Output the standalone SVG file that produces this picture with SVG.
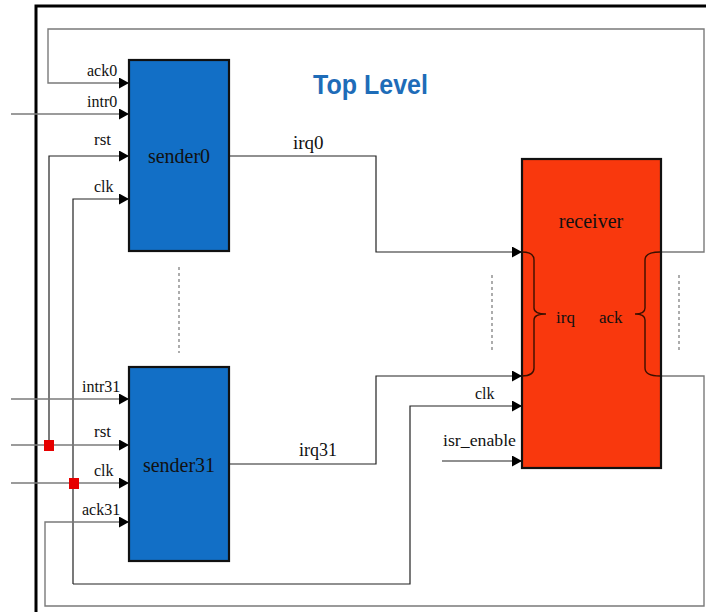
<svg xmlns="http://www.w3.org/2000/svg" width="706" height="612" viewBox="0 0 706 612">
  <defs>
    <marker id="arrow" markerWidth="10" markerHeight="11" refX="10" refY="5.5" orient="auto" markerUnits="userSpaceOnUse">
      <path d="M0,0 L10,5.5 L0,11 z" fill="#000"/>
    </marker>
    <style>
      .wire { fill: none; stroke: #222; stroke-width: 1.2; }
      .wire-grey { fill: none; stroke: #7a7a7a; stroke-width: 1.4; }
      .in { marker-end: url(#arrow); }
      .sender { fill: #126fc6; stroke: #111; stroke-width: 2.2; }
      .receiver { fill: #f9380d; stroke: #111; stroke-width: 2.2; }
      .lbl { font-family: "Liberation Serif", "DejaVu Serif", serif; fill: #111; }
      .dots { stroke: #8a8a8a; stroke-width: 1.4; stroke-dasharray: 3 3; fill: none; }
      .brace { fill: none; stroke: #3a1000; stroke-width: 1.4; }
      .tap { fill: #e60000; }
    </style>
  </defs>

  <rect width="706" height="612" fill="#fff"/>

  <!-- outer frame (left and top edges) -->
  <path d="M36,612 V6 H706" fill="none" stroke="#000" stroke-width="3"/>

  <text x="313" y="94" font-family="'Liberation Sans', Arial, sans-serif" font-weight="bold" font-size="27" fill="#1e6cb8" textLength="115" lengthAdjust="spacingAndGlyphs">Top Level</text>

  <!-- wiring -->
  <g id="connectors">
    <!-- ack feedback to sender0 -->
    <path class="wire-grey in" d="M660,252 H704 V29 H48 V83 H129"/>
    <!-- intr0 -->
    <path class="wire-grey in" d="M11,114 H129"/>
    <!-- rst / clk fan-out to sender0 -->
    <path class="wire in" d="M49,446 V156 H129"/>
    <path class="wire in" d="M73,584 V199 H129"/>
    <!-- clk to receiver -->
    <path class="wire in" d="M73,584 H410 V406 H522"/>
    <!-- sender31 inputs -->
    <path class="wire-grey in" d="M11,399 H129"/>
    <path class="wire-grey in" d="M11,445 H129"/>
    <path class="wire-grey in" d="M11,483 H129"/>
    <!-- ack feedback to sender31 -->
    <path class="wire-grey in" d="M660,376 H704 V606 H45 V522 H129"/>
    <!-- irq lines -->
    <path class="wire in" d="M229,156 H376 V252 H522"/>
    <path class="wire in" d="M229,464 H376 V376 H522"/>
    <!-- isr_enable -->
    <path class="wire in" d="M442,461 H522"/>
    <!-- junction taps -->
    <rect class="tap" x="44" y="440" width="10" height="11"/>
    <rect class="tap" x="69" y="478" width="10" height="11"/>
    <!-- elision marks -->
    <line class="dots" x1="179" y1="267" x2="179" y2="353"/>
    <line class="dots" x1="492" y1="275" x2="492" y2="353"/>
    <line class="dots" x1="679" y1="275" x2="679" y2="353"/>
  </g>

  <g id="sender0">
    <rect class="sender" x="129" y="60" width="100" height="191"/>
    <text class="lbl" x="179" y="163" font-size="20" text-anchor="middle">sender0</text>
    <text class="lbl" x="87" y="76" font-size="16">ack0</text>
    <text class="lbl" x="87" y="107" font-size="16">intr0</text>
    <text class="lbl" x="94" y="145" font-size="17">rst</text>
    <text class="lbl" x="94" y="192" font-size="16">clk</text>
    <text class="lbl" x="293" y="149" font-size="19">irq0</text>
  </g>

  <g id="sender31">
    <rect class="sender" x="129" y="367" width="100" height="194"/>
    <text class="lbl" x="179" y="472" font-size="20" text-anchor="middle">sender31</text>
    <text class="lbl" x="82" y="392" font-size="16">intr31</text>
    <text class="lbl" x="94" y="437" font-size="17">rst</text>
    <text class="lbl" x="94" y="476" font-size="16">clk</text>
    <text class="lbl" x="82" y="515" font-size="16">ack31</text>
    <text class="lbl" x="299" y="456" font-size="18">irq31</text>
  </g>

  <g id="receiver">
    <rect class="receiver" x="522" y="159" width="139" height="309"/>
    <text class="lbl" x="591" y="228" font-size="20" text-anchor="middle">receiver</text>
    <path class="brace" d="M522,252 Q534,252 534,260 V308 Q534,314 546,314 Q534,314 534,320 V368 Q534,376 522,376"/>
    <path class="brace" d="M660,252 Q645,252 645,260 V308 Q645,314 635,314 Q645,314 645,320 V368 Q645,376 660,376"/>
    <text class="lbl" x="556" y="323" font-size="17">irq</text>
    <text class="lbl" x="599" y="323" font-size="17">ack</text>
    <text class="lbl" x="475" y="399" font-size="16">clk</text>
    <text class="lbl" x="443" y="446" font-size="16" textLength="73" lengthAdjust="spacingAndGlyphs">isr_enable</text>
  </g>
</svg>
